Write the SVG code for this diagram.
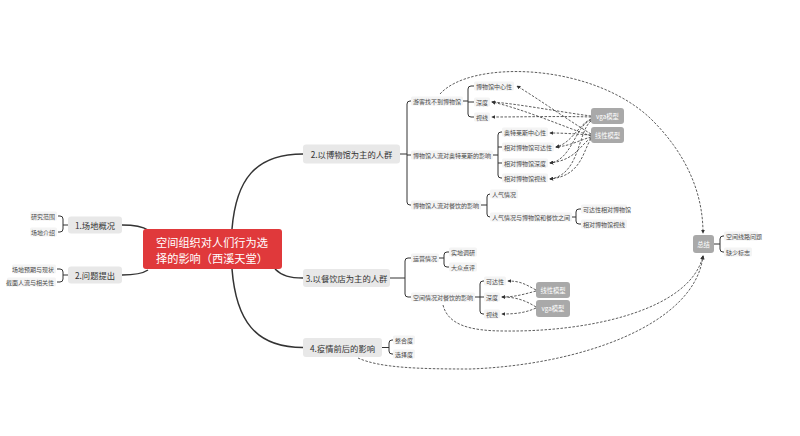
<svg xmlns="http://www.w3.org/2000/svg" width="800" height="436" viewBox="0 0 800 436">
<defs>
<marker id="ah" viewBox="0 0 6 6" refX="5" refY="3" markerWidth="4" markerHeight="4" markerUnits="userSpaceOnUse" orient="auto"><path d="M0,0 L6,3 L0,6 z" fill="#333"/></marker>
<style>
text{font-family:"Noto Sans CJK SC","Noto Sans",sans-serif}
.main{stroke:#333;stroke-width:1.5;fill:none}
.br{stroke:#333;stroke-width:1;fill:none}
.dash{stroke:#333;stroke-width:0.8;fill:none;stroke-dasharray:2.5 1.5;marker-end:url(#ah)}
.ct{fill:#e0393b}
.ctt{fill:#fff;font-size:11.2px}
.mt{fill:#e8e8e8}
.mtt{fill:#333;font-size:8.3px;text-anchor:middle;dominant-baseline:central}
.lf{fill:#f4f4f4}
.lft{fill:#4a4a4a;font-size:6px;dominant-baseline:central}
.md{fill:#a9a9a9}
.mdt{fill:#fff;font-size:6.3px;text-anchor:middle;dominant-baseline:central}
</style>
</defs>
<rect width="800" height="436" fill="#fff"/>

<g id="connectors">
<path class="main" d="M122,225 C135,225 142,226 148,230"/>
<path class="main" d="M122,275 C135,275 142,274 148,270"/>
<path class="main" d="M232,229 C236,180 255,154 303,154"/>
<path class="main" d="M275,269 C282,276 290,278 303,278"/>
<path class="main" d="M232,269 C236,320 255,347.5 303,347.5"/>
<!-- brackets -->
<path class="br" d="M68,225 H63 M58,216 H60 Q63,216 63,219 V229 Q63,232 60,232 H58"/>
<path class="br" d="M68,275 H63 M57,269 H60 Q63,269 63,272 V279 Q63,282 60,282 H57"/>
<path class="br" d="M400,154 H407 M411,101 H410 Q407,101 407,104 V202 Q407,205 410,205 H411 M407,155 H411"/>
<path class="br" d="M463,101 H468 M474,86 H471 Q468,86 468,89 V114 Q468,117 471,117 H474 M468,102 H474"/>
<path class="br" d="M493,155 H498 M502,132 H501 Q498,132 498,135 V175 Q498,178 501,178 H502 M498,147 H502 M498,163 H502"/>
<path class="br" d="M481,205 H487 M490,194 H490 Q487,194 487,197 V214 Q487,217 490,217 H490"/>
<path class="br" d="M572,217 H576 M581,209 H579 Q576,209 576,212 V221 Q576,224 579,224 H581"/>
<path class="br" d="M390,278 H405 M411,258 H408 Q405,258 405,261 V294 Q405,297 408,297 H411"/>
<path class="br" d="M439,258 H444 M449,252 H447 Q444,252 444,255 V264 Q444,267 447,267 H449"/>
<path class="br" d="M475,297 H480 M484,281 H483 Q480,281 480,284 V311 Q480,314 483,314 H484 M480,297 H484"/>
<path class="br" d="M382,347.5 H389 M393,340 H392 Q389,340 389,343 V351 Q389,354 392,354 H393"/>
<path class="br" d="M714,244 H720 M724,236 H723 Q720,236 720,239 V249 Q720,252 723,252 H724"/>
<!-- dashed relations: museum -->
<path class="dash" d="M591,134 C565,118 540,100 517,86"/>
<path class="dash" d="M591,116 C560,112 520,104 492,102"/>
<path class="dash" d="M591,136 C560,125 520,108 492,102"/>
<path class="dash" d="M591,117 C560,116 520,117 492,117"/>
<path class="dash" d="M591,135 C575,134 565,133 550,133"/>
<path class="dash" d="M591,137 C580,140 570,146 556,147"/>
<path class="dash" d="M591,119 C578,125 572,143 556,147"/>
<path class="dash" d="M591,120 C575,126 572,160 550,163"/>
<path class="dash" d="M591,138 C580,145 576,160 550,163"/>
<path class="dash" d="M591,121 C578,131 580,175 550,179"/>
<path class="dash" d="M591,139 C583,150 582,176 550,179"/>
<!-- restaurant -->
<path class="dash" d="M536,290 C525,284 520,281 508,281"/>
<path class="dash" d="M536,291 C525,294 515,297 502,297"/>
<path class="dash" d="M536,307 C525,300 515,297 502,297"/>
<path class="dash" d="M536,308 C525,313 515,314 502,314"/>
<!-- to summary -->
<path class="dash" d="M440,94 C470,60 590,62 650,118 C688,155 703,195 703,233"/>
<path class="dash" d="M443,305 C448,325 470,331 505,331 C590,332 690,310 703,256"/>
<path class="dash" d="M358,358 C380,368 420,369 470,369 C580,365 695,325 703,256"/>
</g>

<g id="central">
<rect class="ct" x="143" y="229" width="139" height="40" rx="3"/>
<text class="ctt" x="156" y="247">空间组织对人们行为选</text>
<text class="ctt" x="156" y="263">择的影响（西溪天堂）</text>
</g>

<g id="t1"><rect class="mt" x="68" y="216.5" width="54" height="17" rx="3"/><text class="mtt" x="95" y="225">1.场地概况</text></g>
<g id="t1a"><rect class="lf" x="30" y="211.5" width="27" height="9" rx="1.5"/><text class="lft" x="55" y="216" text-anchor="end">研究范围</text></g>
<g id="t1b"><rect class="lf" x="30" y="227.5" width="27" height="9" rx="1.5"/><text class="lft" x="55" y="232" text-anchor="end">场地介绍</text></g>

<g id="t2"><rect class="mt" x="68" y="266.5" width="54" height="17" rx="3"/><text class="mtt" x="95" y="275">2.问题提出</text></g>
<g id="t2a"><rect class="lf" x="12" y="264.5" width="44" height="9" rx="1.5"/><text class="lft" x="54" y="269" text-anchor="end">场地预期与现状</text></g>
<g id="t2b"><rect class="lf" x="7" y="277.5" width="49" height="9" rx="1.5"/><text class="lft" x="54" y="282" text-anchor="end">截面人流与相关性</text></g>

<g id="m"><rect class="mt" x="303" y="144.5" width="97" height="19" rx="3"/><text class="mtt" x="351.5" y="154">2.以博物馆为主的人群</text></g>
<g id="m1"><rect class="lf" x="411" y="96.5" width="52" height="9" rx="1.5"/><text class="lft" x="413" y="101">游客找不到博物馆</text></g>
<g id="m1a"><rect class="lf" x="474" y="81.5" width="40" height="9" rx="1.5"/><text class="lft" x="476" y="86">博物馆中心性</text></g>
<g id="m1b"><rect class="lf" x="474" y="97.5" width="16" height="9" rx="1.5"/><text class="lft" x="476" y="102">深度</text></g>
<g id="m1c"><rect class="lf" x="474" y="112.5" width="16" height="9" rx="1.5"/><text class="lft" x="476" y="117">视线</text></g>
<g id="m2"><rect class="lf" x="411" y="150.5" width="82" height="9" rx="1.5"/><text class="lft" x="413" y="155">博物馆人流对奥特莱斯的影响</text></g>
<g id="m2a"><rect class="lf" x="502" y="127.5" width="46" height="9" rx="1.5"/><text class="lft" x="504" y="132">奥特莱斯中心性</text></g>
<g id="m2b"><rect class="lf" x="502" y="142.5" width="52" height="9" rx="1.5"/><text class="lft" x="504" y="147">相对博物馆可达性</text></g>
<g id="m2c"><rect class="lf" x="502" y="158.5" width="46" height="9" rx="1.5"/><text class="lft" x="504" y="163">相对博物馆深度</text></g>
<g id="m2d"><rect class="lf" x="502" y="173.5" width="46" height="9" rx="1.5"/><text class="lft" x="504" y="178">相对博物馆视线</text></g>
<g id="m3"><rect class="lf" x="411" y="200.5" width="70" height="9" rx="1.5"/><text class="lft" x="413" y="205">博物馆人流对餐饮的影响</text></g>
<g id="m3a"><rect class="lf" x="490" y="189.5" width="28" height="9" rx="1.5"/><text class="lft" x="492" y="194">人气情况</text></g>
<g id="m3b"><rect class="lf" x="490" y="212.5" width="82" height="9" rx="1.5"/><text class="lft" x="492" y="217">人气情况与博物馆和餐饮之间</text></g>
<g id="m3b1"><rect class="lf" x="581" y="204.5" width="46" height="9" rx="1.5"/><text class="lft" x="583" y="209">可达性相对博物馆</text></g>
<g id="m3b2"><rect class="lf" x="581" y="219.5" width="46" height="9" rx="1.5"/><text class="lft" x="583" y="224">相对博物馆视线</text></g>
<g id="mvga"><rect class="md" x="591" y="108" width="33" height="16" rx="3"/><text class="mdt" x="607.5" y="116">vga模型</text></g>
<g id="mlin"><rect class="md" x="591" y="127" width="33" height="16" rx="3"/><text class="mdt" x="607.5" y="135">线性模型</text></g>

<g id="r"><rect class="mt" x="303" y="269" width="87" height="18" rx="3"/><text class="mtt" x="346.5" y="278">3.以餐饮店为主的人群</text></g>
<g id="r1"><rect class="lf" x="411" y="253.5" width="28" height="9" rx="1.5"/><text class="lft" x="413" y="258">运营情况</text></g>
<g id="r1a"><rect class="lf" x="449" y="247.5" width="28" height="9" rx="1.5"/><text class="lft" x="451" y="252">实地调研</text></g>
<g id="r1b"><rect class="lf" x="449" y="262.5" width="28" height="9" rx="1.5"/><text class="lft" x="451" y="267">大众点评</text></g>
<g id="r2"><rect class="lf" x="411" y="292.5" width="64" height="9" rx="1.5"/><text class="lft" x="413" y="297">空间情况对餐饮的影响</text></g>
<g id="r2a"><rect class="lf" x="484" y="276.5" width="22" height="9" rx="1.5"/><text class="lft" x="486" y="281">可达性</text></g>
<g id="r2b"><rect class="lf" x="484" y="292.5" width="16" height="9" rx="1.5"/><text class="lft" x="486" y="297">深度</text></g>
<g id="r2c"><rect class="lf" x="484" y="309.5" width="16" height="9" rx="1.5"/><text class="lft" x="486" y="314">视线</text></g>
<g id="rlin"><rect class="md" x="536" y="282" width="34" height="16" rx="3"/><text class="mdt" x="553" y="290">线性模型</text></g>
<g id="rvga"><rect class="md" x="536" y="300" width="34" height="17" rx="3"/><text class="mdt" x="553" y="308.5">vga模型</text></g>

<g id="e"><rect class="mt" x="303" y="338" width="79" height="19" rx="3"/><text class="mtt" x="342.5" y="347.5">4.疫情前后的影响</text></g>
<g id="e1"><rect class="lf" x="393" y="335.5" width="22" height="9" rx="1.5"/><text class="lft" x="395" y="340">整合度</text></g>
<g id="e2"><rect class="lf" x="393" y="349.5" width="22" height="9" rx="1.5"/><text class="lft" x="395" y="354">选择度</text></g>

<g id="s"><rect class="md" x="693" y="235" width="21" height="18" rx="3"/><text class="mdt" x="703.5" y="244">总结</text></g>
<g id="s1"><rect class="lf" x="724" y="231.5" width="34" height="9" rx="1.5"/><text class="lft" x="726" y="236">空间线路问题</text></g>
<g id="s2"><rect class="lf" x="724" y="247.5" width="28" height="9" rx="1.5"/><text class="lft" x="726" y="252">缺少标志</text></g>
</svg>
